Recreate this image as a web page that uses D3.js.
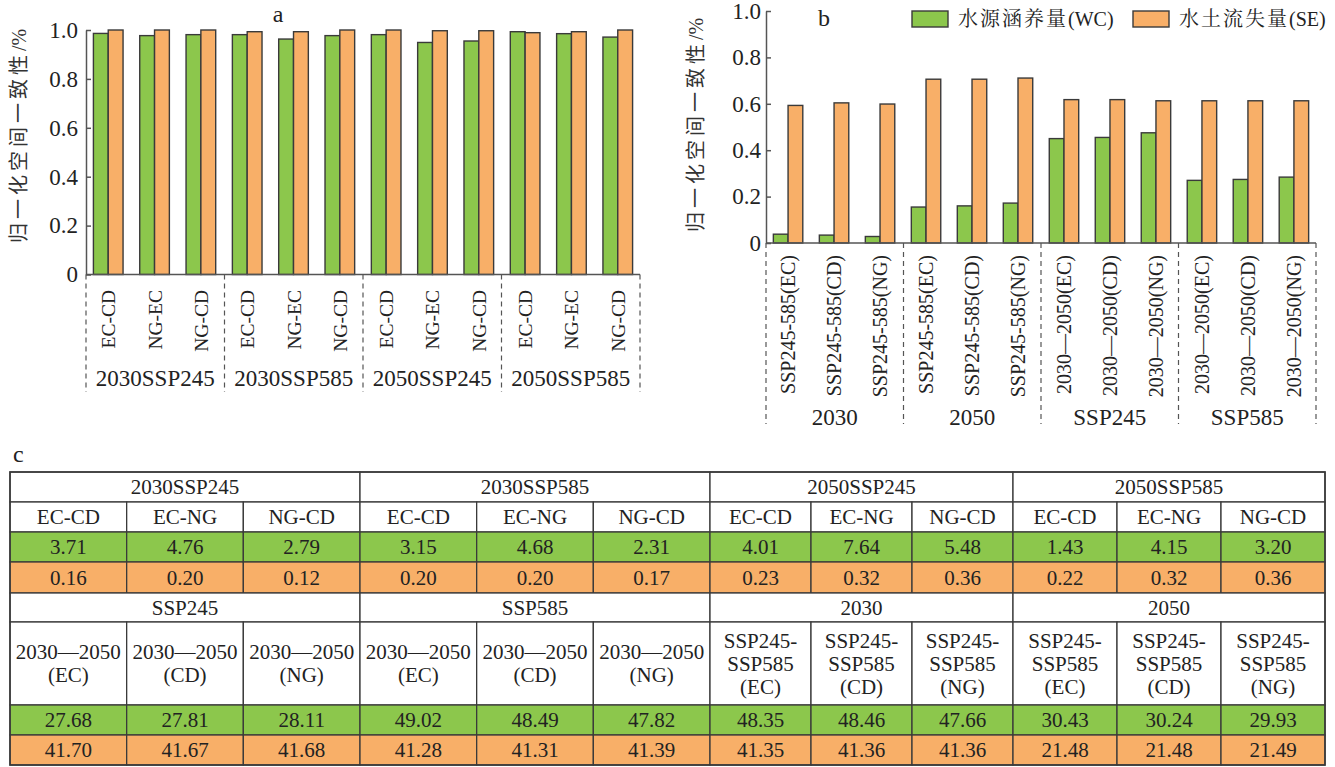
<!DOCTYPE html>
<html>
<head>
<meta charset="utf-8">
<script src="https://cdn.jsdelivr.net/npm/d3@7"></script>
<style>
  body { margin: 0; background: #fff; }
</style>
</head>
<body>
<svg id="fig" width="1335" height="767"></svg>
<script>
// ---- data ----
const aGroups = ['2030SSP245', '2030SSP585', '2050SSP245', '2050SSP585'];
const aPairs = ['EC-CD', 'NG-EC', 'NG-CD'];
const aWC = [0.986, 0.977, 0.981, 0.981, 0.963, 0.977, 0.981, 0.949, 0.955, 0.993, 0.985, 0.971];
const aSE = [1.0, 1.0, 1.0, 0.993, 0.993, 1.0, 1.0, 0.997, 0.997, 0.989, 0.993, 1.0];

const bGroups = ['2030', '2050', 'SSP245', 'SSP585'];
const bLabels = ['SSP245-585(EC)', 'SSP245-585(CD)', 'SSP245-585(NG)',
                 'SSP245-585(EC)', 'SSP245-585(CD)', 'SSP245-585(NG)',
                 '2030—2050(EC)', '2030—2050(CD)', '2030—2050(NG)',
                 '2030—2050(EC)', '2030—2050(CD)', '2030—2050(NG)'];
const bWC = [0.038, 0.034, 0.028, 0.155, 0.16, 0.172, 0.45, 0.455, 0.475, 0.27, 0.274, 0.284];
const bSE = [0.593, 0.604, 0.599, 0.706, 0.706, 0.711, 0.618, 0.618, 0.613, 0.613, 0.613, 0.613];

const yTicks = [0, 0.2, 0.4, 0.6, 0.8, 1.0];
const seriesNames = [['水源涵养量', '(WC)'], ['水土流失量', '(SE)']];
const yTitle = ['归一化空间一致性', '/%'];

const tGroups1 = ['2030SSP245', '2030SSP585', '2050SSP245', '2050SSP585'];
const tCols1 = ['EC-CD', 'EC-NG', 'NG-CD'];
const tWC1 = ['3.71', '4.76', '2.79', '3.15', '4.68', '2.31', '4.01', '7.64', '5.48', '1.43', '4.15', '3.20'];
const tSE1 = ['0.16', '0.20', '0.12', '0.20', '0.20', '0.17', '0.23', '0.32', '0.36', '0.22', '0.32', '0.36'];

const tGroups2 = ['SSP245', 'SSP585', '2030', '2050'];
const tCols2 = [
  ['2030—2050', '(EC)'], ['2030—2050', '(CD)'], ['2030—2050', '(NG)'],
  ['2030—2050', '(EC)'], ['2030—2050', '(CD)'], ['2030—2050', '(NG)'],
  ['SSP245-', 'SSP585', '(EC)'], ['SSP245-', 'SSP585', '(CD)'], ['SSP245-', 'SSP585', '(NG)'],
  ['SSP245-', 'SSP585', '(EC)'], ['SSP245-', 'SSP585', '(CD)'], ['SSP245-', 'SSP585', '(NG)']
];
const tWC2 = ['27.68', '27.81', '28.11', '49.02', '48.49', '47.82', '48.35', '48.46', '47.66', '30.43', '30.24', '29.93'];
const tSE2 = ['41.70', '41.67', '41.68', '41.28', '41.31', '41.39', '41.35', '41.36', '41.36', '21.48', '21.48', '21.49'];

const GREEN = '#8cc74c';
const ORANGE = '#f8af68';
const STROKE = '#3a3a3a';
const SERIF = '"Liberation Serif", "Times New Roman", serif';
const CJK_SANS = '"Noto Sans CJK SC", sans-serif';
const CJK_SERIF = '"Noto Serif CJK SC", "Noto Sans CJK SC", serif';

const svg = d3.select('#fig');

// ---- bar panel helper ----
function barPanel(opt) {
  const g = svg.append('g');
  const x = d3.scaleBand().domain(d3.range(opt.wc.length))
    .range([opt.x0, opt.x1]).paddingInner(0.36).paddingOuter(0.16);
  const xs = d3.scaleBand().domain([0, 1]).range([0, x.bandwidth()]);
  const y = d3.scaleLinear().domain([0, 1]).range([opt.y0, opt.y1]);
  const color = [GREEN, ORANGE];

  const rows = opt.wc.map((v, i) => ({ i, vals: [v, opt.se[i]] }));
  g.selectAll('g.pair').data(rows).enter().append('g')
    .attr('transform', d => `translate(${x(d.i)},0)`)
    .selectAll('rect').data(d => d.vals).enter().append('rect')
    .attr('x', (d, k) => xs(k))
    .attr('y', d => y(d))
    .attr('width', xs.bandwidth())
    .attr('height', d => y(0) - y(d))
    .attr('fill', (d, k) => color[k])
    .attr('stroke', STROKE)
    .attr('stroke-width', 1.4);

  // y axis
  const ax = g.append('g').attr('transform', `translate(${opt.x0},0)`)
    .call(d3.axisLeft(y).tickValues(yTicks)
      .tickFormat(d => d === 0 ? '0' : d3.format('.1f')(d))
      .tickSizeInner(-5).tickSizeOuter(0).tickPadding(opt.tickPad));
  ax.select('.domain').attr('stroke', '#555').attr('stroke-width', 1.5);
  ax.selectAll('.tick line').attr('stroke', '#555').attr('stroke-width', 1.5);
  ax.selectAll('.tick text')
    .style('font-family', SERIF).style('font-size', '23px').attr('fill', '#222');

  // baseline
  g.append('line').attr('x1', opt.x0).attr('x2', opt.x1)
    .attr('y1', y(0)).attr('y2', y(0))
    .attr('stroke', '#555').attr('stroke-width', 1.5);

  // group separators (dashed)
  const step = (opt.x1 - opt.x0) / opt.groups.length;
  g.selectAll('line.sep').data(d3.range(opt.groups.length + 1)).enter().append('line')
    .attr('x1', k => opt.x0 + k * step).attr('x2', k => opt.x0 + k * step)
    .attr('y1', y(0)).attr('y2', opt.sepBottom)
    .attr('stroke', '#555').attr('stroke-width', 1.2)
    .attr('stroke-dasharray', '5,4');

  // rotated category labels
  g.selectAll('text.cat').data(opt.labels).enter().append('text')
    .attr('transform', (d, i) => `translate(${x(i) + x.bandwidth() / 2 + 7},${opt.catTop}) rotate(-90)`)
    .attr('text-anchor', 'end')
    .style('font-family', SERIF).style('font-size', opt.catSize).attr('fill', '#222')
    .text(d => d);

  // group labels
  g.selectAll('text.grp').data(opt.groups).enter().append('text')
    .attr('x', (d, k) => opt.x0 + (k + 0.5) * step)
    .attr('y', opt.grpY)
    .attr('text-anchor', 'middle')
    .style('font-family', SERIF).style('font-size', '23px').attr('fill', '#222')
    .text(d => d);

  // y title
  const t = g.append('text')
    .attr('transform', `translate(${opt.titleX},${opt.titleY}) rotate(-90)`)
    .attr('text-anchor', 'middle').attr('fill', '#333')
    .style('font-size', '20px');
  t.append('tspan').style('font-family', CJK_SANS).style('letter-spacing', '4px').text(yTitle[0]);
  t.append('tspan').style('font-family', SERIF).text(yTitle[1]);

  // panel letter
  g.append('text').attr('x', opt.letterX).attr('y', opt.letterY)
    .attr('text-anchor', 'middle').attr('fill', '#222')
    .style('font-family', SERIF).style('font-size', '24px').text(opt.letter);
  return g;
}

barPanel({
  wc: aWC, se: aSE, x0: 86, x1: 640, y0: 274.5, y1: 30,
  groups: aGroups, labels: aGroups.flatMap(() => aPairs),
  sepBottom: 392, catTop: 290, catSize: '19.5px', grpY: 386, tickPad: 8,
  titleX: 26, titleY: 136, letter: 'a', letterX: 278, letterY: 22
});

barPanel({
  wc: bWC, se: bSE, x0: 766, x1: 1316, y0: 243, y1: 11,
  groups: bGroups, labels: bLabels,
  sepBottom: 424, catTop: 255, catSize: '20px', grpY: 425, tickPad: 5,
  titleX: 703, titleY: 125, letter: 'b', letterX: 824, letterY: 26
});

// legend for panel b
const leg = svg.append('g');
const legX = [912, 1133];
seriesNames.forEach((name, k) => {
  leg.append('rect').attr('x', legX[k]).attr('y', 11).attr('width', 36).attr('height', 16)
    .attr('fill', [GREEN, ORANGE][k]).attr('stroke', STROKE).attr('stroke-width', 1.4);
  const t = leg.append('text').attr('x', legX[k] + 46).attr('y', 26)
    .attr('fill', '#222').style('font-size', '20px');
  t.append('tspan').style('font-family', CJK_SERIF).style('letter-spacing', '2px').text(name[0]);
  t.append('tspan').style('font-family', SERIF).text(name[1]);
});

// ---- table c ----
svg.append('text').attr('x', 13).attr('y', 462).attr('fill', '#222')
  .style('font-family', SERIF).style('font-size', '24px').text('c');

const blockEdges = [10, 360, 710, 1013, 1325];
const tbl = svg.append('g');

function tableBlock(rowEdges, groups, cols, wc, se) {
  const cells = [];
  groups.forEach((gname, b) => {
    const bx = d3.scaleBand().domain(d3.range(3)).range([blockEdges[b], blockEdges[b + 1]]);
    cells.push({ x: blockEdges[b], w: blockEdges[b + 1] - blockEdges[b], r: 0, fill: '#fff', text: [gname] });
    d3.range(3).forEach(c => {
      const idx = b * 3 + c;
      const lab = Array.isArray(cols[idx % cols.length]) ? cols[idx % cols.length] : [cols[idx % cols.length]];
      cells.push({ x: bx(c), w: bx.bandwidth(), r: 1, fill: '#fff', text: lab });
      cells.push({ x: bx(c), w: bx.bandwidth(), r: 2, fill: GREEN, text: [wc[idx]] });
      cells.push({ x: bx(c), w: bx.bandwidth(), r: 3, fill: ORANGE, text: [se[idx]] });
    });
  });
  const cg = tbl.append('g').selectAll('g').data(cells).enter().append('g');
  cg.append('rect')
    .attr('x', d => d.x).attr('y', d => rowEdges[d.r])
    .attr('width', d => d.w).attr('height', d => rowEdges[d.r + 1] - rowEdges[d.r])
    .attr('fill', d => d.fill).attr('stroke', STROKE).attr('stroke-width', 1.3);
  cg.each(function (d) {
    const cy = (rowEdges[d.r] + rowEdges[d.r + 1]) / 2;
    const lh = 23;
    d.text.forEach((t, j) => {
      d3.select(this).append('text')
        .attr('x', d.x + d.w / 2)
        .attr('y', cy + (j - (d.text.length - 1) / 2) * lh)
        .attr('dy', '0.35em')
        .attr('text-anchor', 'middle').attr('fill', '#222')
        .style('font-family', SERIF).style('font-size', '21px')
        .text(t);
    });
  });
}

tableBlock([472, 502, 532, 562, 593], tGroups1, tCols1, tWC1, tSE1);
tableBlock([593, 622, 705, 735, 765], tGroups2, tCols2, tWC2, tSE2);

// outer frame
tbl.append('rect').attr('x', blockEdges[0]).attr('y', 472)
  .attr('width', blockEdges[4] - blockEdges[0]).attr('height', 765 - 472)
  .attr('fill', 'none').attr('stroke', STROKE).attr('stroke-width', 1.6);
</script>
</body>
</html>
